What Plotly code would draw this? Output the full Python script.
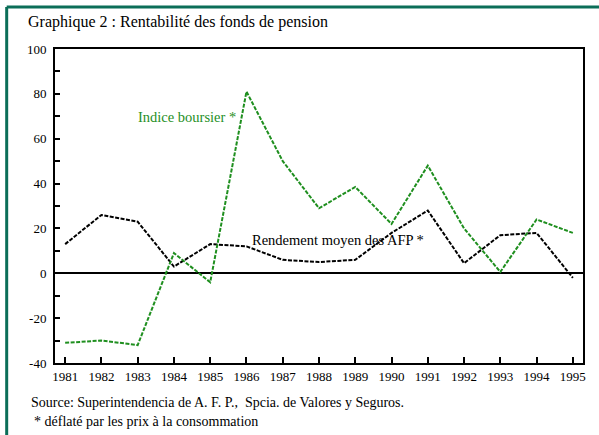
import plotly.graph_objects as go

years = list(range(1981, 1996))
indice_boursier = [-31, -30, -32, 9, -4, 81, 50, 29, 38.5, 22, 48, 20, 0.6, 24, 18]
rendement_afp = [13, 26, 23, 3, 13, 12, 6, 5, 6, 18, 28, 4.5, 17, 18, -2]

y_tickvals = [100, 80, 60, 40, 20, 0, -20, -40]
y_ticktext = ["100", "80", "60", "40", "20", "0", "-20", "-40"]
x_ticktext = [str(y) for y in years]

title_text = "Graphique 2 : Rentabilité des fonds de pension"
source_text = "Source: Superintendencia de A. F. P.,  Spcia. de Valores y Seguros."
note_text = "* déflaté par les prix à la consommation"

SERIF = "'Liberation Serif', 'Times New Roman', serif"
GREEN = "#1f8f1f"
TEAL = "#0b6e58"

fig = go.Figure()
fig.add_trace(go.Scatter(x=years, y=rendement_afp, mode="lines",
                         line=dict(color="black", width=2, dash="4px,1.5px"),
                         showlegend=False, hoverinfo="skip"))
fig.add_trace(go.Scatter(x=years, y=indice_boursier, mode="lines",
                         line=dict(color=GREEN, width=2, dash="4px,1.5px"),
                         showlegend=False, hoverinfo="skip"))

fig.update_layout(
    width=599, height=435,
    margin=dict(l=55, r=16, t=49, b=72),
    paper_bgcolor="white", plot_bgcolor="white",
    font=dict(family=SERIF, color="black"),
    xaxis=dict(range=[1980.72, 1995.28], tickvals=years, ticktext=x_ticktext,
               ticks="inside", ticklen=6, tickwidth=1.5, tickcolor="black",
               showgrid=False, zeroline=False, showline=True, linecolor="black",
               linewidth=2, mirror=True, tickfont=dict(size=13, family=SERIF)),
    yaxis=dict(range=[-40, 100], tickvals=y_tickvals, ticktext=y_ticktext,
               ticks="inside", ticklen=5, tickwidth=1.5, tickcolor="black",
               minor=dict(ticks="inside", dtick=10, ticklen=5, tickwidth=1.5, tickcolor="black"),
               showgrid=False, zeroline=True, zerolinecolor="black", zerolinewidth=1.5,
               showline=True, linecolor="black", linewidth=2, mirror=True,
               ticklabelstandoff=4,
               tickfont=dict(size=13, family=SERIF)),
)

# teal outer frame (left and top edges visible)
fig.add_shape(type="line", xref="paper", yref="paper", x0=-0.0915, x1=-0.0915, y0=-0.5, y1=1.134,
              line=dict(color=TEAL, width=3))
fig.add_shape(type="line", xref="paper", yref="paper", x0=-0.0915, x1=1.2, y0=1.134, y1=1.134,
              line=dict(color=TEAL, width=3))

fig.add_annotation(text=title_text, xref="paper", yref="paper", x=-0.054, y=1.085,
                   xanchor="left", yanchor="middle", showarrow=False,
                   font=dict(size=16, family=SERIF, color="black"))
fig.add_annotation(text=source_text, xref="paper", yref="paper", x=-0.049, y=-0.127,
                   xanchor="left", yanchor="middle", showarrow=False,
                   font=dict(size=14, family=SERIF, color="black"))
fig.add_annotation(text=note_text, xref="paper", yref="paper", x=-0.044, y=-0.185,
                   xanchor="left", yanchor="middle", showarrow=False,
                   font=dict(size=14, family=SERIF, color="black"))
fig.add_annotation(text="Indice boursier *", x=1984.36, y=69.5, xref="x", yref="y",
                   xanchor="center", yanchor="middle", showarrow=False,
                   font=dict(size=14.5, family=SERIF, color=GREEN))
fig.add_annotation(text="Rendement moyen des AFP *", x=1986.1, y=14.7, xref="x", yref="y",
                   xanchor="left", yanchor="middle", showarrow=False,
                   font=dict(size=14.5, family=SERIF, color="black"))

fig.write_html("out.html", config={"displayModeBar": False},
               post_script="document.body.style.margin='0';")
